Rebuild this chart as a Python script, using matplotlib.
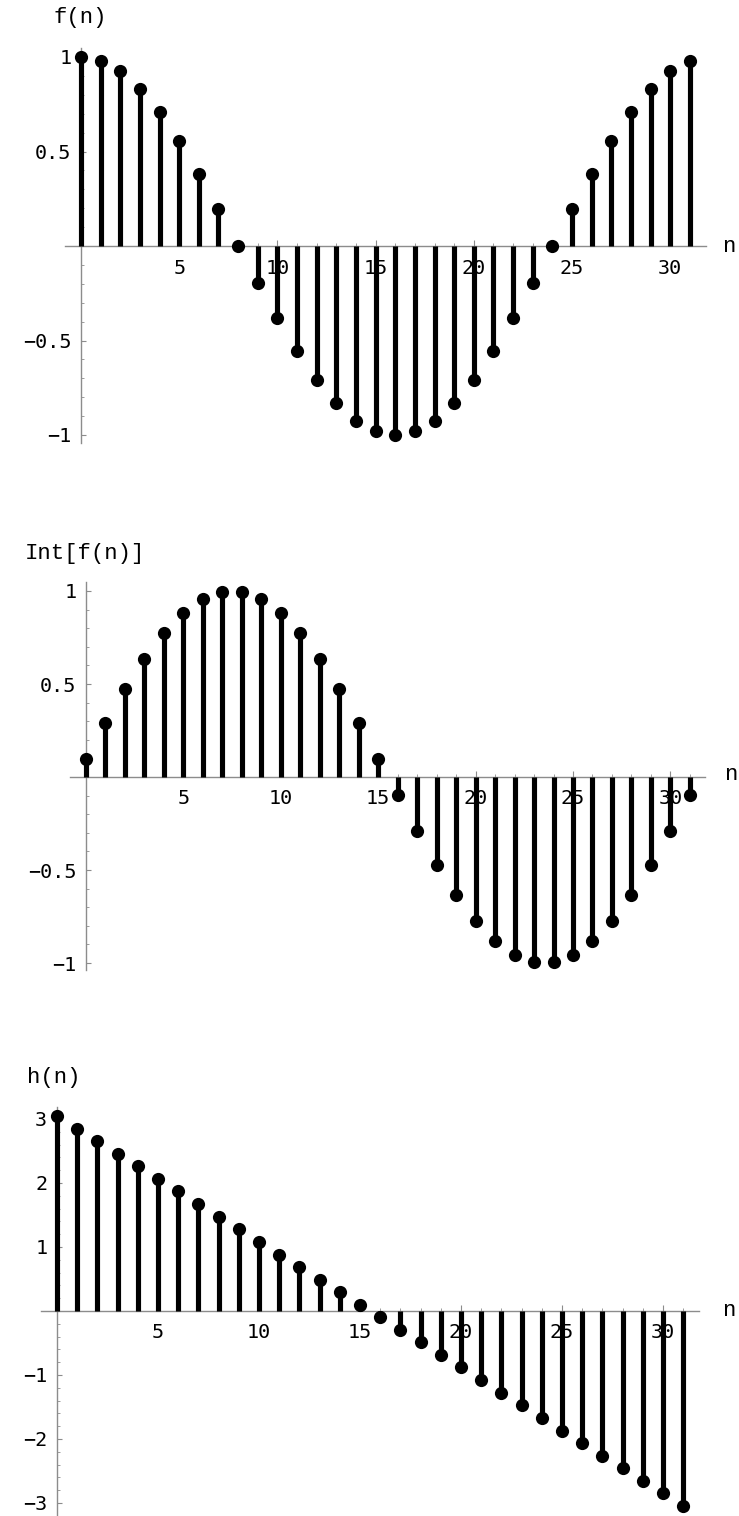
import matplotlib
matplotlib.use("Agg")
import matplotlib.pyplot as plt
from matplotlib.ticker import MultipleLocator, FixedLocator

n = list(range(32))

f_vals = [1.0, 0.981, 0.924, 0.831, 0.707, 0.556, 0.383, 0.195,
          0.0, -0.195, -0.383, -0.556, -0.707, -0.831, -0.924, -0.981,
          -1.0, -0.981, -0.924, -0.831, -0.707, -0.556, -0.383, -0.195,
          0.0, 0.195, 0.383, 0.556, 0.707, 0.831, 0.924, 0.981]

int_vals = [0.098, 0.290, 0.471, 0.634, 0.773, 0.882, 0.957, 0.995,
            0.995, 0.957, 0.882, 0.773, 0.634, 0.471, 0.290, 0.098,
            -0.098, -0.290, -0.471, -0.634, -0.773, -0.882, -0.957, -0.995,
            -0.995, -0.957, -0.882, -0.773, -0.634, -0.471, -0.290, -0.098]

h_vals = [3.04, 2.85, 2.65, 2.45, 2.26, 2.06, 1.87, 1.67,
          1.47, 1.28, 1.08, 0.88, 0.69, 0.49, 0.29, 0.10,
          -0.10, -0.29, -0.49, -0.69, -0.88, -1.08, -1.28, -1.47,
          -1.67, -1.87, -2.06, -2.26, -2.45, -2.65, -2.85, -3.04]

x_ticks = [5, 10, 15, 20, 25, 30]
y_ticks_12 = [-1, -0.5, 0.5, 1]
y_tick_labels_12 = ["\u22121", "\u22120.5", "0.5", "1"]
y_ticks_3 = [-3, -2, -1, 1, 2, 3]
y_tick_labels_3 = ["\u22123", "\u22122", "\u22121", "1", "2", "3"]

W, H = 739, 1516
fig = plt.figure(figsize=(W / 100, H / 100), dpi=100)

AX_COLOR = "#8c8c8c"
TICK_FONT = dict(family="DejaVu Sans Mono", size=14.5)
LABEL_FONT = dict(family="Liberation Mono", size=16)


def make_panel(x0_px, px_per_n, y0_px, px_per_y, xlim, ylim, vals,
               yticks, yticklabels, yminor, ylabel, ylabel_xy, nlabel_xy):
    left_px = x0_px + xlim[0] * px_per_n
    right_px = x0_px + xlim[1] * px_per_n
    top_px = y0_px - ylim[1] * px_per_y
    bot_px = y0_px - ylim[0] * px_per_y
    ax = fig.add_axes([left_px / W, 1 - bot_px / H,
                       (right_px - left_px) / W, (bot_px - top_px) / H])
    ax.set_xlim(*xlim)
    ax.set_ylim(*ylim)
    ax.patch.set_alpha(0)
    for s in ["top", "right"]:
        ax.spines[s].set_visible(False)
    ax.spines["left"].set_position(("data", 0))
    ax.spines["bottom"].set_position(("data", 0))
    for s in ["left", "bottom"]:
        ax.spines[s].set_color(AX_COLOR)
        ax.spines[s].set_linewidth(1.0)
        ax.spines[s].set_zorder(1)

    ax.vlines(n, 0, vals, colors="black", linewidth=3.7, zorder=3)
    ax.plot(n, vals, "o", color="black", markersize=9.5, zorder=4,
            markeredgewidth=0)

    ax.xaxis.set_major_locator(FixedLocator(x_ticks))
    ax.xaxis.set_minor_locator(MultipleLocator(1))
    ax.yaxis.set_major_locator(FixedLocator(yticks))
    ax.set_yticklabels(yticklabels)
    ax.yaxis.set_minor_locator(MultipleLocator(yminor))
    ax.set_xticklabels([str(t) for t in x_ticks])
    ax.tick_params(axis="x", which="major", direction="in", length=4,
                   width=0.8, color=AX_COLOR, pad=9)
    ax.tick_params(axis="x", which="minor", direction="in", length=2.2,
                   width=0.6, color=AX_COLOR)
    ax.tick_params(axis="y", which="major", direction="in", length=3.5,
                   width=0.8, color=AX_COLOR, pad=7)
    ax.tick_params(axis="y", which="minor", direction="in", length=2,
                   width=0.6, color=AX_COLOR)
    for lab in ax.get_xticklabels() + ax.get_yticklabels():
        lab.set_fontfamily(TICK_FONT["family"])
        lab.set_fontsize(TICK_FONT["size"])
    for t in ax.xaxis.get_major_ticks() + ax.yaxis.get_major_ticks():
        t.tick1line.set_zorder(2)
        t.label1.set_zorder(2)

    fig.text(ylabel_xy[0] / W, 1 - ylabel_xy[1] / H, ylabel,
             ha="center", va="center", **LABEL_FONT)
    fig.text(nlabel_xy[0] / W, 1 - nlabel_xy[1] / H, "n",
             ha="center", va="center", **LABEL_FONT)
    return ax


make_panel(81, 19.64, 246, 189, (-0.8, 31.8), (-1.04, 1.05), f_vals,
           y_ticks_12, y_tick_labels_12, 0.1, "f(n)", (80, 17), (729, 246))
make_panel(86, 19.48, 777, 186, (-0.8, 31.8), (-1.04, 1.05), int_vals,
           y_ticks_12, y_tick_labels_12, 0.1, "Int[f(n)]", (85, 553), (731, 775))
make_panel(57, 20.2, 1311, 64, (-0.8, 31.8), (-3.2, 3.19), h_vals,
           y_ticks_3, y_tick_labels_3, 0.2, "h(n)", (54, 1077), (729, 1311))

fig.savefig("out.png", dpi=100)
